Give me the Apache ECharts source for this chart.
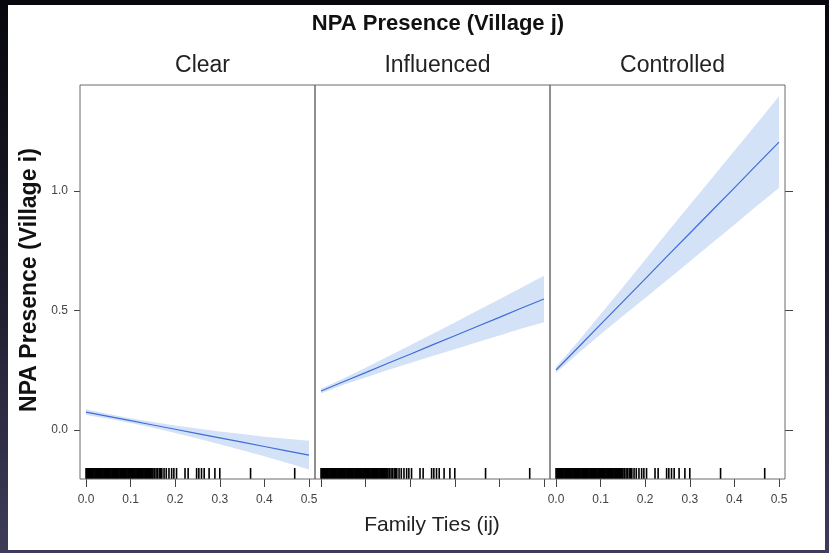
<!DOCTYPE html>
<html>
<head>
<meta charset="utf-8">
<script src="https://cdn.jsdelivr.net/npm/echarts@6/dist/echarts.min.js"></script>
<style>
html,body{margin:0;padding:0;}
body{width:829px;height:553px;background:linear-gradient(180deg,#07070d 0%,#1d1c2c 50%,#3e3c5a 100%);}
#main{width:829px;height:553px;}
</style>
</head>
<body>
<div id="main"></div>
<script>
const panels = ['Clear', 'Influenced', 'Controlled'];
const xs = [0, 0.05, 0.10, 0.15, 0.20, 0.25, 0.30, 0.35, 0.40, 0.45, 0.50];
const xTicks = [0, 0.1, 0.2, 0.3, 0.4, 0.5];
const yTicks = [0, 0.5, 1.0];

const fitClear = [0.075, 0.057, 0.039, 0.021, 0.003, -0.015, -0.033, -0.051, -0.069, -0.087, -0.105];
const loClear  = [0.063, 0.047, 0.029, 0.009, -0.013, -0.036, -0.060, -0.085, -0.110, -0.137, -0.165];
const upClear  = [0.087, 0.067, 0.049, 0.033, 0.019, 0.006, -0.006, -0.017, -0.028, -0.037, -0.045];

const fitInfl = [0.163, 0.202, 0.240, 0.279, 0.317, 0.356, 0.394, 0.433, 0.471, 0.510, 0.548];
const loInfl  = [0.153, 0.189, 0.220, 0.251, 0.280, 0.310, 0.338, 0.367, 0.395, 0.424, 0.451];
const upInfl  = [0.173, 0.215, 0.260, 0.307, 0.354, 0.402, 0.450, 0.499, 0.547, 0.596, 0.645];

const fitCtrl = [0.251, 0.346, 0.442, 0.537, 0.632, 0.728, 0.823, 0.918, 1.013, 1.109, 1.204];
const loCtrl  = [0.239, 0.321, 0.400, 0.477, 0.552, 0.628, 0.705, 0.782, 0.858, 0.937, 1.012];
const upCtrl  = [0.263, 0.371, 0.484, 0.597, 0.712, 0.828, 0.941, 1.054, 1.168, 1.281, 1.396];

const rug = [0.000,0.002,0.004,0.006,0.008,0.010,0.012,0.014,0.016,0.018,0.020,0.022,0.024,0.026,0.028,0.030,
  0.032,0.034,0.036,0.038,0.040,0.042,0.044,0.046,0.048,0.050,0.052,0.054,0.056,0.058,0.060,0.062,0.064,0.066,
  0.068,0.070,0.072,0.074,0.076,0.078,0.080,0.082,0.084,0.086,0.088,0.090,0.092,0.094,0.096,0.098,0.100,0.102,
  0.104,0.106,0.108,0.110,0.112,0.114,0.116,0.118,0.120,0.122,0.124,0.126,0.128,0.130,0.132,0.134,0.136,0.138,
  0.140,0.142,0.144,0.146,0.148,0.150,0.153,0.157,0.160,0.164,0.167,0.170,0.175,0.180,0.186,0.192,0.197,0.203,
  0.222,0.229,0.248,0.253,0.259,0.265,0.276,0.289,0.300,0.369,0.468];

const fits = [fitClear, fitInfl, fitCtrl];
const los = [loClear, loInfl, loCtrl];
const ups = [upClear, upInfl, upCtrl];

const X_MIN = -0.0135, X_MAX = 0.5135, Y_MIN = -0.205, Y_MAX = 1.443;
const gridLefts = [80, 315, 550];
const GRID_W = 235, GRID_TOP = 85, GRID_H = 394;
const LINE_COLOR = '#3f6cd6';
const BAND_COLOR = '#d4e2f8';
const FONT = '"Liberation Sans", Arial, Helvetica, sans-serif';

const grids = [], xAxes = [], yAxes = [], series = [];
panels.forEach((name, i) => {
  grids.push({left: gridLefts[i], top: GRID_TOP, width: GRID_W, height: GRID_H,
    show: true, borderColor: '#6b6b6b', borderWidth: 1, backgroundColor: 'transparent', z: 5});
  xAxes.push({type: 'value', gridIndex: i, min: X_MIN, max: X_MAX, position: 'bottom',
    axisLine: {show: false, onZero: false}, splitLine: {show: false},
    axisTick: {show: true, inside: false, length: 8, customValues: xTicks, lineStyle: {color: '#444', width: 1}},
    axisLabel: {show: i !== 1, customValues: xTicks, margin: 15, fontSize: 12, color: '#444', fontFamily: FONT,
      formatter: v => v.toFixed(1)}});
  yAxes.push({type: 'value', gridIndex: i, min: Y_MIN, max: Y_MAX, position: 'left',
    axisLine: {show: false, onZero: false}, splitLine: {show: false},
    axisTick: {show: i === 0, length: 6, customValues: yTicks, lineStyle: {color: '#444', width: 1}},
    axisLabel: {show: i === 0, customValues: yTicks, margin: 12, fontSize: 12, color: '#444', fontFamily: FONT,
      formatter: v => v.toFixed(1)}});
  const pts = (arr) => xs.map((x, k) => [x, arr[k]]);
  const lo = los[i], up = ups[i];
  series.push({type: 'custom', xAxisIndex: i, yAxisIndex: i, data: xs.map((x, k) => [x, lo[k], up[k]]),
    encode: {x: 0, y: [1, 2]}, silent: true, z: 2,
    renderItem: (params, api) => {
      if (params.dataIndex !== 0) return;
      const upper = xs.map((x, k) => api.coord([x, up[k]]));
      const lower = xs.map((x, k) => api.coord([x, lo[k]])).reverse();
      return {type: 'polygon', shape: {points: upper.concat(lower)}, style: {fill: BAND_COLOR}};
    }});
  series.push({type: 'line', xAxisIndex: i, yAxisIndex: i, data: pts(fits[i]), symbol: 'none',
    lineStyle: {color: LINE_COLOR, width: 1.2}, z: 3});
  series.push({type: 'custom', xAxisIndex: i, yAxisIndex: i, data: rug.map(v => [v, Y_MIN]),
    encode: {x: 0, y: 1}, z: 4, silent: true,
    renderItem: (params, api) => {
      const p = api.coord([api.value(0), api.value(1)]);
      return {type: 'line', shape: {x1: p[0], y1: p[1], x2: p[0], y2: p[1] - 11},
        style: {stroke: '#000', lineWidth: 1.6}};
    }});
});
// right-side ticks on the last panel
yAxes.push({type: 'value', gridIndex: 2, min: Y_MIN, max: Y_MAX, position: 'right',
  axisLine: {show: false, onZero: false}, splitLine: {show: false},
  axisTick: {show: true, length: 8, customValues: yTicks, lineStyle: {color: '#444', width: 1}},
  axisLabel: {show: false}});

const stripTitles = panels.map((name, i) => ({
  text: name, left: gridLefts[i] + GRID_W / 2, top: 49, textAlign: 'center',
  textStyle: {fontSize: 23, fontWeight: 'normal', color: '#222', fontFamily: FONT}
}));

const chart = echarts.init(document.getElementById('main'), null, {renderer: 'canvas'});
chart.setOption({
  backgroundColor: 'transparent',
  animation: false,
  graphic: [
    {type: 'rect', left: 8, top: 5, shape: {width: 817, height: 545}, style: {fill: '#ffffff'}, z: -10},
    {type: 'text', x: 30, y: 280, rotation: Math.PI / 2, z: 10,
      style: {text: 'NPA Presence (Village i)', fill: '#111', font: 'bold 23px ' + FONT,
        textAlign: 'center', textVerticalAlign: 'middle'}}
  ],
  title: [
    {text: 'NPA Presence (Village j)', left: 433, top: 8, textAlign: 'center',
      textStyle: {fontSize: 22, fontWeight: 'bold', color: '#111', fontFamily: FONT}},
    ...stripTitles,
    {text: 'Family Ties (ij)', left: 427, top: 510, textAlign: 'center',
      textStyle: {fontSize: 21, fontWeight: 'normal', color: '#222', fontFamily: FONT}}
  ],
  grid: grids,
  xAxis: xAxes,
  yAxis: yAxes,
  series: series
});
</script>
</body>
</html>
